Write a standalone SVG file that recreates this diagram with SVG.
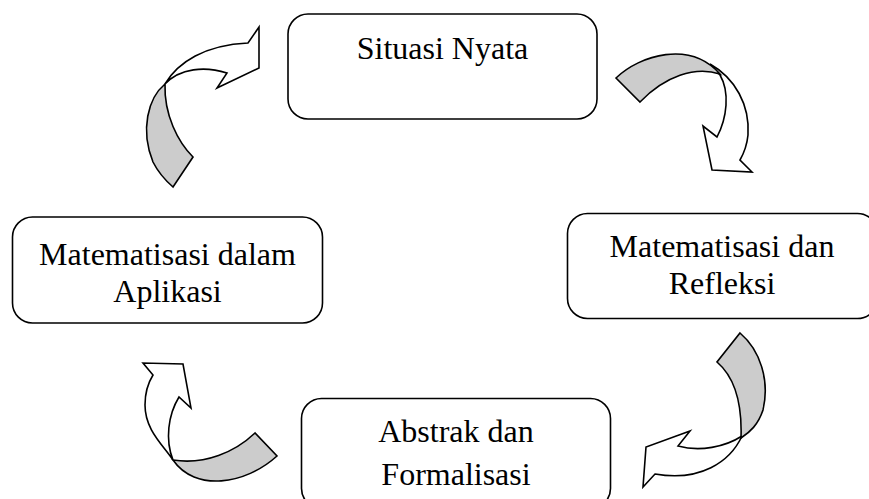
<svg xmlns="http://www.w3.org/2000/svg" width="869" height="499" viewBox="0 0 869 499">
<style>
.box{fill:#fff;stroke:#000;stroke-width:1.6}
.lbl{font-family:"Liberation Serif","Times New Roman",serif;font-size:32px;fill:#000;text-anchor:middle}
.aw{fill:#fff;stroke:#000;stroke-width:1.6;stroke-linejoin:miter}
.ag{fill:#cccccc;stroke:#000;stroke-width:1.6;stroke-linejoin:miter}
</style>
<rect width="869" height="499" fill="#fff"/>
<g id="connectors">
  <g id="arrow-top-left">
    <path class="aw" d="M 165,84 C 178,62 205,45 248,43 L 259,27 L 259,68 L 217,88 L 227,73 C 205,66 180,68 165,84 Z"/>
    <path class="ag" d="M 165,84 C 148,98 140,130 153,162 C 158,172 165,180 173,187 L 193,157 C 178,142 164,115 165,84 Z"/>
  </g>
  <g id="arrow-top-right">
    <path class="aw" d="M 710,64 C 735,78 750,105 748,135 C 747,145 744,153 740,160 L 752,172 L 712,170 L 703,126 L 717,137 C 727,118 730,92 720,75 Z"/>
    <path class="ag" d="M 616,78 C 640,55 690,40 720,74 C 695,66 665,76 640,102 Z"/>
  </g>
  <g id="arrow-bottom-right">
    <path class="aw" d="M 742,436 C 730,462 700,482 655,474 L 643,487 L 646,447 L 690,431 L 678,446 C 700,452 725,447 742,436 Z"/>
    <path class="ag" d="M 740,333 C 760,350 770,380 763,410 C 758,425 750,432 741,438 C 742,410 738,380 717,362 Z"/>
  </g>
  <g id="arrow-bottom-left">
    <path class="aw" d="M 173,460 C 163,445 145,430 145,405 C 145,393 148,383 153,375 L 143,363 L 183,364 L 191,408 L 179,397 C 168,415 165,440 173,460 Z"/>
    <path class="ag" d="M 173,460 C 195,492 245,485 277,456 L 255,433 C 235,452 205,465 173,460 Z"/>
  </g>
</g>
<g id="node-situasi-nyata">
  <rect class="box" x="288" y="14" width="309" height="105" rx="20"/>
  <text class="lbl" x="442.5" y="59">Situasi Nyata</text>
</g>
<g id="node-matematisasi-refleksi">
  <rect class="box" x="567.5" y="213.5" width="310" height="105" rx="20"/>
  <text class="lbl" x="722" y="257">Matematisasi dan</text>
  <text class="lbl" x="722" y="294">Refleksi</text>
</g>
<g id="node-matematisasi-aplikasi">
  <rect class="box" x="12.5" y="217" width="310" height="106" rx="20"/>
  <text class="lbl" x="167.5" y="264.5">Matematisasi dalam</text>
  <text class="lbl" x="167.5" y="302">Aplikasi</text>
</g>
<g id="node-abstrak-formalisasi">
  <rect class="box" x="301.5" y="398.5" width="309" height="110" rx="20"/>
  <text class="lbl" x="456" y="442">Abstrak dan</text>
  <text class="lbl" x="456" y="485">Formalisasi</text>
</g>
</svg>
